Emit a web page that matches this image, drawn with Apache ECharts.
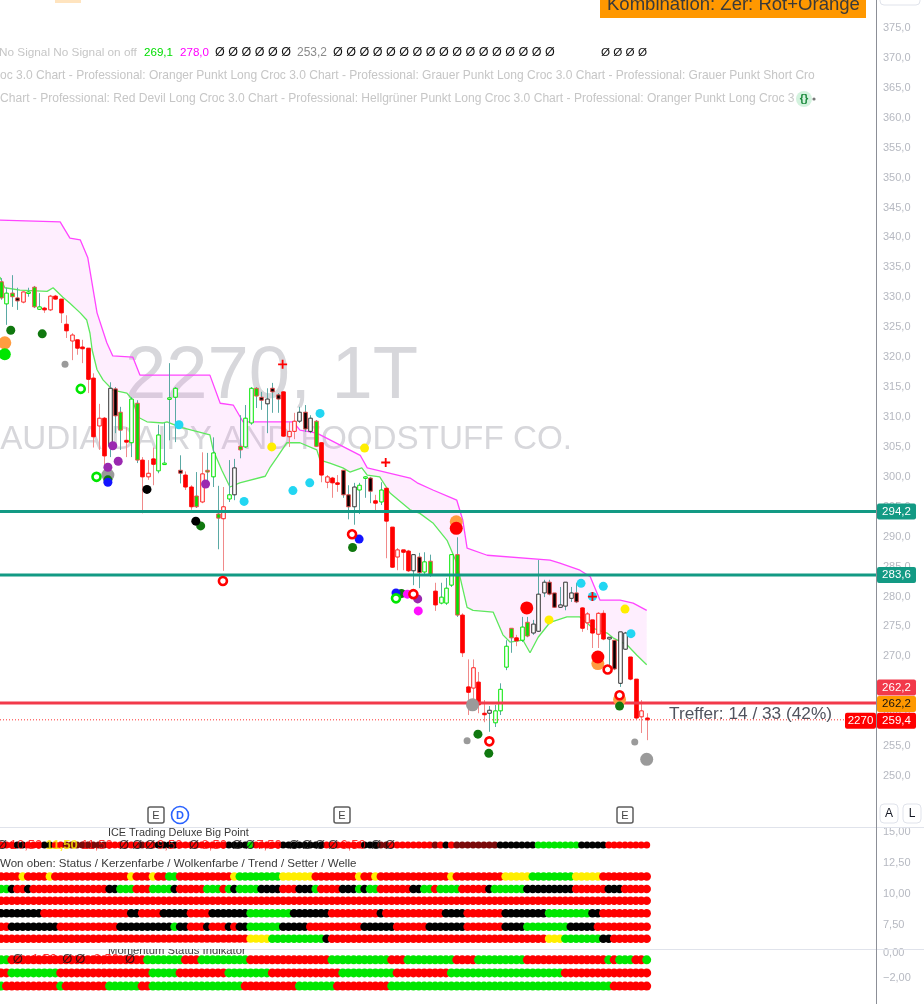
<!DOCTYPE html>
<html>
<head>
<meta charset="utf-8">
<script src="https://cdn.jsdelivr.net/npm/echarts@6.0.0/dist/echarts.min.js"></script>
<style>html,body{margin:0;padding:0;background:#fff;overflow:hidden}#chart{width:924px;height:1004px}</style>
</head>
<body>
<div id="chart"></div>
<script>
// ---------------- DATA ----------------
const candleOpen = [
332.6,328.9,330.7,329.9,329.2,330.7,331.7,328.0,328.2,327.9,
330.2,329.7,325.5,322.7,322.9,321.7,321.5,316.5,308.5,309.8,
305.1,314.7,310.8,306.1,305.7,312.3,302.8,300.0,303.0,301.0,
302.1,313.0,313.3,301.1,300.3,298.3,296.8,295.8,301.1,300.0,
293.8,293.0,296.3,297.0,305.1,305.0,309.0,314.8,313.3,312.2,
314.8,313.7,314.2,306.7,307.6,309.3,310.8,307.6,309.3,305.7,
299.1,299.8,299.0,301.1,297.0,295.0,297.8,299.8,299.8,296.0,
295.8,298.1,291.6,286.6,287.8,287.6,284.3,286.6,284.1,285.9,
280.9,278.9,278.9,281.9,287.0,276.9,264.9,264.7,265.7,260.5,
260.5,258.9,260.9,268.2,274.7,273.1,272.7,275.7,273.9,274.2,
280.6,282.4,280.6,278.2,278.4,279.7,280.6,278.1,275.6,276.1,
273.7,277.2,272.9,272.7,265.5,271.2,269.9,266.2,259.9,259.7];
const candleHigh = [
333.2,331.6,333.7,331.6,331.0,331.6,331.9,330.7,328.4,330.4,
330.4,329.7,327.0,324.0,322.9,322.9,321.5,317.3,312.2,310.0,
315.8,315.0,311.7,308.3,313.3,312.8,303.3,302.8,304.9,308.7,
309.0,319.0,315.0,303.6,300.9,298.6,300.8,304.1,304.0,306.6,
298.5,298.3,302.8,303.0,310.3,312.0,315.0,315.0,314.2,314.8,
315.7,314.0,314.3,309.2,310.7,311.7,312.0,310.3,309.5,305.8,
300.3,300.0,300.3,301.1,298.6,299.0,299.0,300.1,300.0,297.0,
299.1,298.1,291.6,288.1,287.8,287.8,287.0,287.3,287.4,287.0,
282.3,282.3,283.1,287.0,289.9,277.2,269.5,269.5,267.4,262.7,
261.7,261.9,265.5,272.7,274.7,273.6,276.6,276.6,276.1,286.1,
282.8,282.8,280.6,281.6,282.4,281.6,282.3,278.2,277.4,276.1,
277.4,277.7,273.2,272.7,274.1,274.1,269.9,266.2,262.7,260.5];
const candleLow = [
329.6,325.4,328.4,327.9,329.0,330.1,328.2,327.9,327.4,327.7,
329.6,325.7,323.2,319.5,320.4,319.0,314.0,304.9,304.5,300.6,
303.3,307.3,304.5,303.3,303.3,302.3,293.9,299.5,298.6,300.6,
302.0,306.1,305.8,298.9,297.8,294.5,294.8,295.6,299.1,298.3,
287.9,284.3,295.8,296.1,303.1,304.8,308.7,311.5,311.2,307.3,
310.7,310.7,306.7,305.0,306.3,309.0,307.5,307.3,305.0,299.1,
298.1,296.5,297.5,296.5,292.9,292.0,293.8,296.5,295.6,294.1,
295.3,286.4,284.8,284.4,284.4,284.1,281.9,281.4,283.6,283.3,
277.6,278.7,278.6,281.6,276.6,269.9,260.2,261.9,260.5,259.0,
257.4,258.2,260.2,267.7,270.6,271.7,272.4,273.2,273.6,274.1,
279.9,280.2,278.1,278.1,277.7,279.1,278.9,274.1,274.4,271.4,
271.4,272.7,268.1,267.7,264.9,271.1,266.0,259.5,257.2,256.0];
const candleClose = [
329.9,330.7,330.1,329.4,330.9,330.9,328.4,328.4,327.9,330.2,
329.7,327.4,324.4,323.7,321.5,321.4,316.3,306.7,309.8,303.5,
314.8,310.2,307.8,305.8,313.0,302.8,300.0,300.6,302.1,307.0,
302.3,313.2,314.8,300.6,298.3,295.0,295.0,300.5,300.8,304.0,
293.1,295.0,297.0,301.5,304.5,309.8,314.8,313.5,312.8,313.0,
314.2,313.0,306.8,307.6,309.3,310.8,308.0,309.8,305.1,300.3,
300.0,299.0,298.8,297.0,295.0,298.3,298.6,300.0,297.6,295.6,
297.8,292.6,284.9,287.8,287.4,284.3,287.0,284.0,285.8,283.6,
278.6,279.9,281.4,287.0,276.9,270.6,264.0,268.1,261.9,260.3,
261.0,260.9,264.5,271.7,273.1,272.6,274.9,273.4,275.4,280.4,
282.4,280.4,278.2,278.6,282.4,280.6,279.1,274.7,277.1,273.9,
277.2,272.9,273.2,267.9,274.1,273.9,266.2,259.7,260.9,259.4];
// candle colour class per bar (R red, r red hollow, G green, g green hollow, K black, k black hollow)
const candleClass = ('GgGKrgGgRr'+'RRRrRRRRrR'+'kKGRgGRrRg'+'gggKRRGrGg'+'GrgkGggGKk'+'KKRrrkKkGR'+
                     'rRRKKkggKR'+'gRRrRRkKgG'+'RgggGRRrRR'+'kgggGRgGkk'+'kKKkkkKRrR'+'rRkKkkRRrR').split('');

const cloudUpper = [[-0.2,342.9],[10.9,342.6],[12.7,339.9],[14.6,339.6],[16.0,336.6],[17.7,327.4],[19.5,322.4],[20.6,320.2],[24.3,320.0],[25.6,317.0],[38.5,317.0],[40.4,312.3],[42.8,312.0],[44.6,309.2],[53.8,309.2],[55.1,307.8],[58.2,307.3],[66.2,303.6],[67.5,301.5],[75.4,299.8],[76.7,299.0],[79.6,297.8],[82.7,296.6],[84.0,296.1],[85.1,292.8],[85.9,288.1],[89.6,286.9],[101.2,286.1],[103.0,285.6],[106.7,284.4],[108.6,283.3],[110.4,279.4],[114.1,279.4],[116.5,278.9],[119.0,277.7]];
const cloudLower = [[-0.2,333.4],[0.7,331.6],[3.5,331.2],[8.5,331.0],[9.6,331.6],[11.4,330.0],[12.7,329.0],[14.6,327.4],[15.8,326.2],[16.4,324.0],[16.8,321.2],[17.7,317.9],[18.8,316.2],[20.6,314.5],[23.2,314.0],[24.3,312.8],[25.2,310.0],[26.9,309.2],[29.9,309.0],[30.6,309.2],[33.0,308.3],[38.5,307.0],[39.1,304.5],[40.7,301.1],[42.2,298.3],[44.0,299.0],[48.7,300.1],[49.6,301.6],[50.9,303.3],[52.7,305.7],[55.1,305.7],[58.2,304.5],[58.8,302.8],[60.6,302.3],[63.0,301.5],[64.3,300.8],[66.5,301.5],[67.5,300.3],[69.8,300.0],[71.7,297.3],[75.4,294.5],[77.2,293.9],[79.6,292.3],[82.2,289.4],[84.0,285.6],[85.9,278.2],[87.0,277.7],[90.7,277.4],[92.5,273.6],[93.8,272.4],[96.2,272.7],[97.5,270.6],[99.0,273.2],[101.2,275.7],[104.3,276.6],[106.7,276.6],[109.1,274.7],[111.7,273.9],[112.8,273.1],[115.4,271.9],[117.2,270.2],[119.0,268.6]];

const levelsTeal = [294.2, 283.6];
const levelRed = 262.2;
const lastPrice = 259.4;

// signal dots [barIndex, price]
const darkGreenDots = [[1.8,324.5],[7.6,323.9],[19.7,299.5],[36.8,291.8],[64.8,288.2],[73.8,280.5],[87.9,257.0],[89.9,253.8],[114.0,261.7]];
const cyanDots = [[32.8,308.7],[44.8,295.9],[53.8,297.7],[56.9,299.0],[58.8,310.6],[106.9,282.2],[111.0,281.7],[109.0,280.0],[116.1,273.8]];
const yellowDots = [[49.9,305.0],[67.0,304.8],[101.0,276.1],[115.0,277.9]];
const purpleDots = [[20.6,305.2],[21.6,302.6],[19.7,301.6],[37.7,298.8],[76.8,279.6]];
const blackDots = [[26.9,297.9],[35.9,292.6]];
const greySmallDots = [[11.8,318.8],[85.9,255.9],[116.8,255.7]];
const greyBigDots = [[19.7,300.3],[86.9,261.9],[119.0,252.8]];
const orangeBigDots = [[0.7,322.4],[83.9,292.5],[110.0,268.8],[114.0,262.8]];
const redBigDots = [[83.9,291.4],[96.9,278.1],[110.0,269.9]];
const limeBigDots = [[0.7,320.5]];
const greenRings = [[14.7,314.7],[17.6,300.0],[72.8,279.7]];
const redRings = [[40.9,282.6],[64.7,290.4],[76.0,280.4],[90.0,255.8],[111.8,267.8],[114.0,263.5]];
const blueDots = [[19.7,299.1],[66.0,289.6],[72.8,280.6]];
const magentaDots = [[74.9,280.4],[76.9,277.6]];
const redCrosses = [[51.9,318.8],[70.9,302.4],[109.0,280.0]];

// indicator panes: runs of [state, bars]
const rowBigPoint = [['R',3],['K',2],['R',3],['K',2],['R',2],['M',8],['R',6],['M',1],['R',2],['K',4],['R',9],['K',4],['G',1],['R',5],['K',8],['R',7],['K',3],['M',2],['R',8],['M',1],['R',1],['K',1],['R',1],['M',8],['K',7],['G',8],['K',5],['R',8]];
const rowStatus = [['R',4],['Y',1],['R',4],['Y',1],['R',14],['Y',1],['R',3],['Y',1],['R',2],['G',2],['R',10],['Y',1],['G',8],['Y',6],['R',8],['Y',1],['R',2],['Y',1],['R',13],['Y',1],['R',9],['Y',5],['G',8],['Y',5],['R',9]];
const rowCandle = [['G',2],['K',1],['R',2],['K',1],['R',14],['K',2],['G',3],['R',3],['G',4],['K',1],['R',5],['G',3],['R',1],['G',1],['K',1],['G',4],['K',4],['R',3],['K',3],['G',1],['R',4],['K',3],['G',1],['K',1],['G',2],['R',6],['K',2],['G',2],['R',1],['G',4],['R',5],['K',1],['G',6],['K',9],['R',6],['K',3],['R',5]];
const rowCloud = [['R',120]];
const rowTrend = [['K',8],['R',16],['K',2],['R',4],['K',5],['R',4],['K',7],['G',8],['K',7],['R',9],['K',1],['R',11],['K',4],['R',7],['K',8],['G',8],['K',2],['R',9]];
const rowSetter = [['R',2],['K',9],['R',11],['K',10],['G',1],['K',2],['R',3],['K',1],['R',3],['K',1],['R',1],['K',2],['G',6],['K',5],['R',10],['K',6],['R',6],['K',7],['R',7],['K',4],['G',8],['K',5],['R',10]];
const rowWave = [['R',46],['Y',4],['G',10],['K',1],['R',40],['Y',3],['G',7],['K',2],['R',7]];
const rowMom1 = [['G',2],['R',25],['G',7],['R',3],['G',9],['R',15],['G',11],['R',3],['G',9],['R',4],['G',9],['R',15],['G',1],['R',1],['G',3],['R',2],['G',1]];
const rowMom2 = [['R',2],['G',9],['R',17],['G',5],['R',9],['G',8],['R',13],['G',10],['R',10],['G',21],['R',16]];
const rowMom3 = [['G',1],['R',10],['G',1],['R',8],['G',6],['R',2],['G',17],['R',10],['G',7],['R',10],['G',41],['R',7]];
// plotted levels of those rows
const bigPointLevels = [13.95, 11.4, 10.4, 9.45, 8.45, 7.35, 6.4];
const momentumLevels = [-0.55, -1.57, -2.6];

const bigPointLabels = [[0.2,'Ø','none'],[4.6,'10,50','val'],[11.2,'11,50','top'],[17.7,'11,50','val'],[22.7,'Ø','none'],[25.1,'Ø','none'],[27.5,'Ø','none'],[31.1,'9,50','val'],[35.6,'Ø','none'],[39.3,'8,50','val'],[43.5,'Ø','none'],[45.9,'Ø','none'],[49.4,'7,50','val'],[54.0,'Ø','none'],[56.4,'Ø','none'],[58.8,'Ø','none'],[61.2,'Ø','none'],[64.9,'6,50','val'],[69.1,'Ø','none'],[71.7,'Ø','none']];
const momentumLabels = [[3.1,'Ø','none'],[7.6,'-1,50','val'],[12.2,'Ø','none'],[14.6,'Ø','none'],[19.0,'-2,50','val'],[23.8,'Ø','none']];

// ---------------- CHART ----------------
const FONT = "'Liberation Sans', Arial, sans-serif";
const X_MIN = -0.184, X_MAX = 161.26;
const STATE_COLORS = {R:'#ff0000', G:'#00e600', K:'#000000', Y:'#ffee00', M:'#7a0a0a'};
const CANDLE_STY = {
  R:{fill:'#ff0000', border:'#ff0000', wick:'#f08a8a'},
  r:{fill:'#ffffff', border:'#ff2020', wick:'#f08a8a'},
  G:{fill:'#00e600', border:'#f05050', wick:'#5aa9a4'},
  g:{fill:'#ffffff', border:'#00e600', wick:'#5aa9a4'},
  K:{fill:'#000000', border:'#e04848', wick:'#5aa9a4'},
  k:{fill:'#ffffff', border:'#333333', wick:'#5aa9a4'}
};
const LABEL_COLORS = {none:'#111111', val:'#ff0000', top:'#ffee00'};

const chart = echarts.init(document.getElementById('chart'), null, {renderer:'canvas', width:924, height:1004});

const expand = runs => { const out = []; runs.forEach(([s,n]) => { for (let k=0;k<n;k++) out.push(s); }); return out; };
const fmt = d => v => (v < 0 ? '\u2212' : '') + Math.abs(v).toFixed(d).replace('.', ',');

const axisLabelStyle = {color:'#b6b9c1', fontSize:11, fontFamily:FONT, margin:7};

const candleData = candleOpen.map((o,k) => [k, o, candleHigh[k], candleLow[k], candleClose[k]]);

function dotSeries(data, color, size, z, extra) {
  return Object.assign({type:'scatter', xAxisIndex:0, yAxisIndex:0, data, symbol:'circle', symbolSize:size,
    itemStyle:{color, opacity:1}, z, silent:true, clip:true}, extra||{});
}
function rowSeries(runs, level, axis, size) {
  const states = expand(runs);
  return {type:'scatter', xAxisIndex:axis, yAxisIndex:axis, symbol:'circle', symbolSize:size, silent:true, z:3,
    data: states.map((s,k) => ({value:[k, level], itemStyle:{color:STATE_COLORS[s], opacity:1}}))};
}
function labelSeries(labels, level, axis) {
  return {type:'scatter', xAxisIndex:axis, yAxisIndex:axis, symbolSize:0, silent:true, z:6,
    data: labels.map(([i,t,kind]) => ({value:[i, level], label:{show:true, position:'inside', formatter:t,
      color:LABEL_COLORS[kind], fontSize:13, fontFamily:FONT, fontWeight: kind==='top' ? 'bold' : 'normal'}}))};
}

const series = [
  // cloud fill
  {type:'custom', xAxisIndex:0, yAxisIndex:0, z:1, silent:true, clip:true, data:[[0,300]],
   renderItem:(params, api) => {
     const pts = cloudUpper.map(p => api.coord(p)).concat(cloudLower.slice().reverse().map(p => api.coord(p)));
     return {type:'polygon', shape:{points:pts}, style:{fill:'rgba(250,120,250,0.13)'}};
   }},
  {type:'line', xAxisIndex:0, yAxisIndex:0, data:cloudUpper, showSymbol:false, symbol:'none', z:2, silent:true,
   lineStyle:{color:'#ff45ff', width:1.3}},
  {type:'line', xAxisIndex:0, yAxisIndex:0, data:cloudLower, showSymbol:false, symbol:'none', z:2, silent:true,
   lineStyle:{color:'#5ee85e', width:1.3}},
  // candles
  {type:'custom', xAxisIndex:0, yAxisIndex:0, z:3, silent:true, clip:true, data:candleData,
   encode:{x:0, y:[1,2,3,4]},
   renderItem:(params, api) => {
     const i = api.value(0), o = api.value(1), h = api.value(2), l = api.value(3), c = api.value(4);
     const st = CANDLE_STY[candleClass[params.dataIndex]];
     const pH = api.coord([i,h]), pL = api.coord([i,l]);
     const pT = api.coord([i,Math.max(o,c)]), pB = api.coord([i,Math.min(o,c)]);
     const w = api.size([1,0])[0] * 0.66;
     const xc = Math.round(pT[0]) + 0.5;
     return {type:'group', children:[
       {type:'line', shape:{x1:xc, y1:pH[1], x2:xc, y2:pL[1]}, style:{stroke:st.wick, lineWidth:1}},
       {type:'rect', shape:{x:xc - w/2, y:pT[1], width:w, height:Math.max(1.5, pB[1]-pT[1])},
        style:{fill:st.fill, stroke:st.border, lineWidth:1}}
     ]};
   }},
  // horizontal levels
  ...levelsTeal.map(v => ({type:'line', xAxisIndex:0, yAxisIndex:0, data:[[X_MIN,v],[X_MAX,v]], symbol:'none', z:4, silent:true,
    lineStyle:{color:'#139a84', width:3}})),
  {type:'line', xAxisIndex:0, yAxisIndex:0, data:[[X_MIN,levelRed],[X_MAX,levelRed]], symbol:'none', z:4, silent:true,
   lineStyle:{color:'#f2394a', width:3}},
  {type:'line', xAxisIndex:0, yAxisIndex:0, data:[[X_MIN,lastPrice],[X_MAX,lastPrice]], symbol:'none', z:4, silent:true,
   lineStyle:{color:'#ff3030', width:1, type:[1,2]}},
  // signals
  dotSeries(greyBigDots, '#9a9a9a', 13, 5),
  dotSeries(orangeBigDots, '#ff9c40', 13, 5),
  dotSeries(redBigDots, '#ff0000', 13, 5),
  dotSeries(limeBigDots, '#00e600', 12, 5),
  dotSeries(darkGreenDots, '#10780f', 9, 6),
  dotSeries(cyanDots, '#22d6f2', 9, 6),
  dotSeries(yellowDots, '#ffee00', 9, 6),
  dotSeries(purpleDots, '#9a28b0', 9, 6),
  dotSeries(blackDots, '#000000', 9, 6),
  dotSeries(greySmallDots, '#9a9a9a', 7, 6),
  dotSeries(blueDots, '#1414ff', 9, 6),
  dotSeries(magentaDots, '#ff10ff', 9, 6),
  dotSeries(greenRings, '#ffffff', 8, 7, {itemStyle:{color:'#ffffff', borderColor:'#00e600', borderWidth:2.6, opacity:1}}),
  dotSeries(redRings, '#ffffff', 8, 7, {itemStyle:{color:'#ffffff', borderColor:'#ff0000', borderWidth:2.6, opacity:1}}),
  dotSeries(redCrosses, '#ff0000', 9, 7, {symbol:'path://M4,0H6V4H10V6H6V10H4V6H0V4H4Z'}),
  // Big Point pane
  rowSeries(rowBigPoint, bigPointLevels[0], 1, 7),
  rowSeries(rowStatus, bigPointLevels[1], 1, 8.5),
  rowSeries(rowCandle, bigPointLevels[2], 1, 8.5),
  rowSeries(rowCloud, bigPointLevels[3], 1, 8.5),
  rowSeries(rowTrend, bigPointLevels[4], 1, 8.5),
  rowSeries(rowSetter, bigPointLevels[5], 1, 8.5),
  rowSeries(rowWave, bigPointLevels[6], 1, 8.5),
  labelSeries(bigPointLabels, bigPointLevels[0], 1),
  // Momentum pane
  rowSeries(rowMom1, momentumLevels[0], 2, 9),
  rowSeries(rowMom2, momentumLevels[1], 2, 9),
  rowSeries(rowMom3, momentumLevels[2], 2, 9),
  labelSeries(momentumLabels, momentumLevels[0], 2)
];

const xAxisBase = {type:'value', min:X_MIN, max:X_MAX, show:false};
chart.setOption({
  animation:false,
  backgroundColor:'#ffffff',
  textStyle:{fontFamily:FONT},
  grid:[
    {left:0, right:48, top:0, height:806},
    {left:0, right:48, top:827, height:129},
    {left:0, right:48, top:949, height:71}
  ],
  xAxis:[Object.assign({gridIndex:0}, xAxisBase), Object.assign({gridIndex:1}, xAxisBase), Object.assign({gridIndex:2}, xAxisBase)],
  yAxis:[
    {gridIndex:0, type:'value', position:'right', min:245, max:379.68, interval:5, splitLine:{show:false},
     axisLine:{show:false}, axisTick:{show:false},
     axisLabel:Object.assign({formatter:fmt(1), showMinLabel:false, showMaxLabel:false}, axisLabelStyle)},
    {gridIndex:1, type:'value', position:'right', min:5, max:15.4, interval:2.5, splitLine:{show:false},
     axisLine:{show:false}, axisTick:{show:false},
     axisLabel:Object.assign({formatter:fmt(2), showMinLabel:false, showMaxLabel:false}, axisLabelStyle)},
    {gridIndex:2, type:'value', position:'right', min:-4, max:0.3, interval:2, splitLine:{show:false},
     axisLine:{show:false}, axisTick:{show:false},
     axisLabel:Object.assign({formatter:fmt(2), showMinLabel:false, showMaxLabel:false}, axisLabelStyle)}
  ],
  series
});

// ---------------- ANNOTATIONS ----------------
const mctx = document.createElement('canvas').getContext('2d');
function fit(text, targetW, weight) {
  mctx.font = `${weight||'normal'} 100px ${FONT}`;
  return 100 * targetW / mctx.measureText(text).width;
}
function T(x, y, text, color, size, o) {
  o = o || {};
  return {type:'text', x, y, z:o.z||20, silent:true,
    style:{text, fill:color, font:`${o.weight||'normal'} ${size}px ${FONT}`, align:o.align||'left', verticalAlign:o.va||'middle'}};
}
function TF(x, y, text, color, w, o) { return T(x, y, text, color, fit(text, w, o && o.weight), o); }
function R(x, y, w, h, fill, o) {
  o = o || {};
  return {type:'rect', z:o.z||19, silent:true, shape:{x, y, width:w, height:h, r:o.r||0},
    style:{fill, stroke:o.stroke||null, lineWidth:o.lw||1}};
}
function L(x1, y1, x2, y2, color, lw, z) {
  return {type:'line', z:z||18, silent:true, shape:{x1, y1, x2, y2}, style:{stroke:color, lineWidth:lw||1}};
}
const py = v => chart.convertToPixel({yAxisIndex:0}, v);
const tag = (x, yc, w, text, bg, fg) => [R(x, yc-8, w, 16, bg, {z:30, r:2}), T(x + w/2, yc, text, fg, 11.5, {align:'center', z:31})];

const g = [];
// watermark
g.push(Object.assign(TF(418, 378, '2270, 1T', '#d7d7db', 293, {align:'right'}), {z:0}));
g.push(Object.assign(T(572, 440, 'SAUDIA DAIRY AND FOODSTUFF CO.', '#d7d7db', fit('AUDIA DAIRY AND FOODSTUFF CO.', 572), {align:'right'}), {z:0}));
// frame lines
g.push(L(0, 827.5, 924, 827.5, '#e0e3eb', 1));
g.push(L(0, 949.5, 924, 949.5, '#e0e3eb', 1));
g.push(L(876.5, 0, 876.5, 1004, '#8c8f97', 1));
// top decorations
g.push(R(55, 0, 26, 3, '#ffe4bf'));
g.push(R(880, -14, 40, 19, '#ffffff', {stroke:'#e0e3eb', r:4}));
g.push(R(600, -12, 266, 30, '#ff9800'));
g.push(TF(607, 5, 'Kombination: Zer: Rot+Orange', '#3a3a3a', 253));
// legend lines
g.push(TF(-1, 53, 'No Signal No Signal on off', '#c6c6c6', 138));
g.push(TF(144, 53, '269,1', '#00dd00', 29));
g.push(TF(180, 53, '278,0', '#ff00ff', 29));
g.push(TF(215, 53, 'Ø Ø Ø Ø Ø Ø', '#111111', 76));
g.push(TF(297, 53, '253,2', '#8a8a8a', 30));
g.push(TF(333, 53, 'Ø Ø Ø Ø Ø Ø Ø Ø Ø Ø Ø Ø Ø Ø Ø Ø Ø', '#111111', 222));
g.push(TF(601, 53, 'Ø Ø Ø Ø', '#111111', 46));
g.push(TF(0, 76, 'oc 3.0 Chart - Professional: Oranger Punkt Long Croc 3.0 Chart - Professional: Grauer Punkt Long Croc 3.0 Chart - Professional: Grauer Punkt Short Cro', '#c6c6c6', 816));
g.push(TF(0, 99, 'Chart - Professional: Red Devil Long Croc 3.0 Chart - Professional: Hellgrüner Punkt Long Croc 3.0 Chart - Professional: Oranger Punkt Long Croc 3', '#c6c6c6', 795));
g.push({type:'circle', z:20, silent:true, shape:{cx:804, cy:99, r:8}, style:{fill:'#d3f2de'}});
g.push(T(804, 99, '{}', '#1b8a3c', 11, {align:'center', weight:'bold'}));
g.push({type:'circle', z:20, silent:true, shape:{cx:814, cy:99, r:1.6}, style:{fill:'#777'}});
// price tags
const yRed = py(levelRed), yLast = py(lastPrice);
levelsTeal.forEach(v => g.push(...tag(877, py(v), 39, fmt(1)(v), '#139a84', '#ffffff')));
g.push(...tag(877, yRed - 15.5, 39, fmt(1)(levelRed), '#f2394a', '#ffffff'));
g.push(...tag(877, yRed + 1, 39, fmt(1)(levelRed), '#ff9800', '#111111'));
g.push(...tag(877, yLast + 1, 39, fmt(1)(lastPrice), '#ff0000', '#ffffff'));
g.push(...tag(845, yLast + 1, 31, '2270', '#ff0000', '#ffffff'));
g.push(TF(669, yLast - 6, 'Treffer: 14 / 33 (42%)', '#50535e', 163));
// event markers
[156, 342, 625].forEach(x => {
  g.push(R(x-8, 807, 16, 16, '#ffffff', {stroke:'#5d5d5d', lw:1.5, r:2}));
  g.push(T(x, 815.5, 'E', '#444', 11, {align:'center'}));
});
g.push({type:'circle', z:19, silent:true, shape:{cx:180, cy:815, r:8.5}, style:{fill:'#fff', stroke:'#2962ff', lineWidth:1.6}});
g.push(T(180, 815.5, 'D', '#2962ff', 11, {align:'center', weight:'bold'}));
g.push(R(880, 804, 18, 19, '#ffffff', {stroke:'#e0e3eb', r:4}));
g.push(T(889, 813.5, 'A', '#131722', 12, {align:'center'}));
g.push(R(903, 804, 18, 19, '#ffffff', {stroke:'#e0e3eb', r:4}));
g.push(T(912, 813.5, 'L', '#131722', 12, {align:'center'}));
// pane titles
g.push(TF(108, 833, 'ICE Trading Deluxe Big Point', '#3a3a3a', 141));
g.push(TF(0, 864, 'Won oben: Status / Kerzenfarbe / Wolkenfarbe / Trend / Setter / Welle', '#3a3a3a', 357));
g.push(TF(108, 951, 'Momentum Status Indikator', '#3a3a3a', 138));
g.push(R(100, 942.8, 160, 6.2, '#ffffff', {z:21}));

chart.setOption({graphic:{elements:g}});
</script>
</body>
</html>
